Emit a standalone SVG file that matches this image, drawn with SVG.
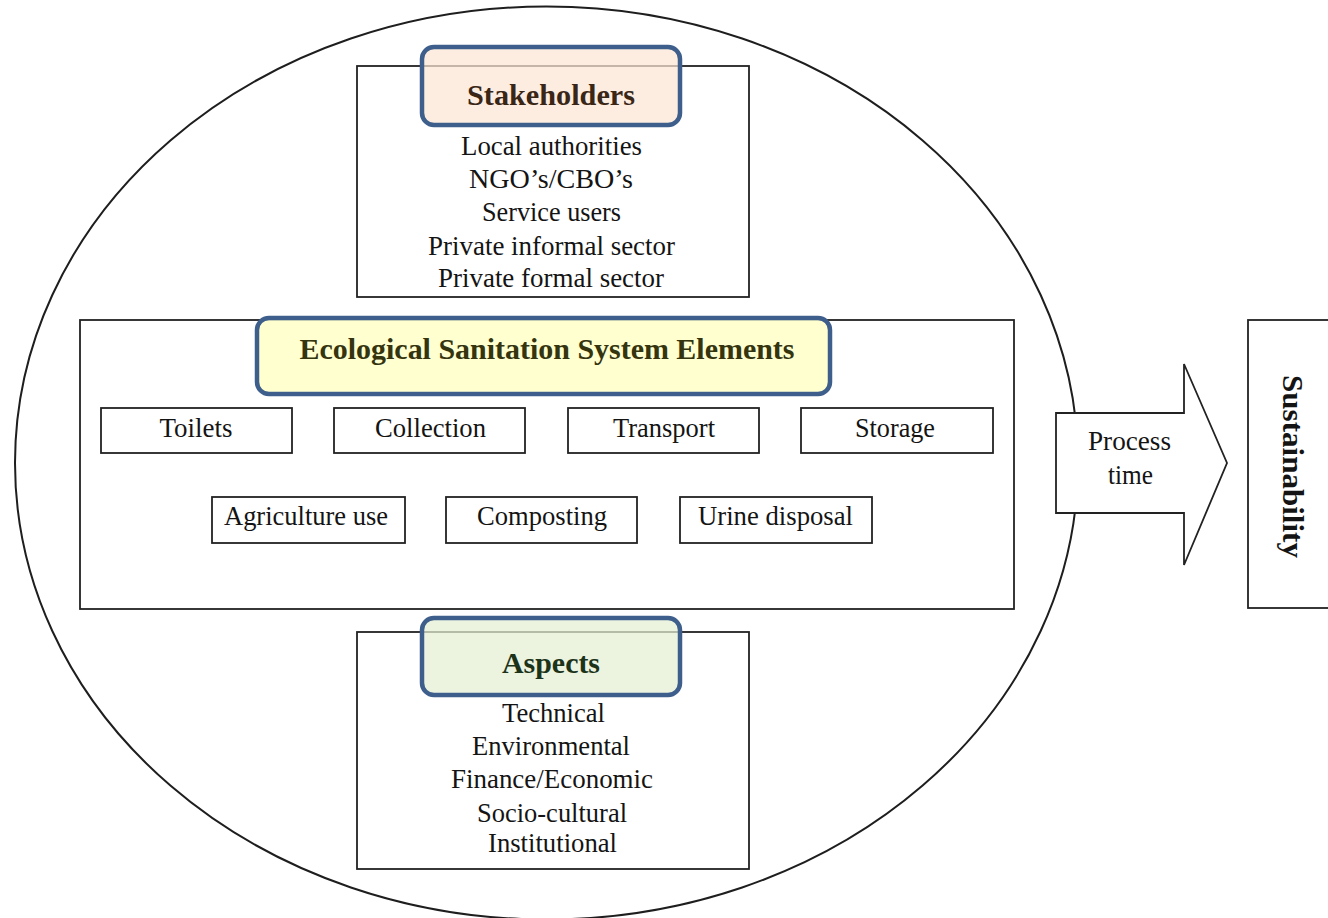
<svg xmlns="http://www.w3.org/2000/svg" width="1328" height="918" viewBox="0 0 1328 918">
  <style>
    .box { fill: none; stroke: #222; stroke-width: 1.8; }
    .wbox { fill: #fff; stroke: #222; stroke-width: 1.8; }
    .hdr { stroke: #3e5f8b; stroke-width: 4.5; }
    .txt { font-family: "Liberation Serif", "Times New Roman", serif; font-size: 27px; fill: #141414; text-anchor: middle; }
    .htxt { font-family: "Liberation Serif", "Times New Roman", serif; font-size: 30px; font-weight: bold; text-anchor: middle; }
  </style>

  <rect width="1328" height="918" fill="#fff"/>

  <!-- enclosing system boundary -->
  <g id="boundary">
    <ellipse cx="546.5" cy="463" rx="531.5" ry="456.5" fill="none" stroke="#1e1e1e" stroke-width="2"/>
  </g>

  <!-- stakeholders -->
  <g id="stakeholders">
    <rect class="wbox" x="357" y="66" width="392" height="231"/>
    <rect class="hdr" x="422" y="47" width="258" height="78" rx="12" fill="#fce6d4" fill-opacity="0.72"/>
    <text class="htxt" x="551" y="105" fill="#3a2616" textLength="168" lengthAdjust="spacingAndGlyphs">Stakeholders</text>
    <text class="txt" x="551.5" y="155" textLength="181" lengthAdjust="spacingAndGlyphs">Local authorities</text>
    <text class="txt" x="551" y="188" textLength="164" lengthAdjust="spacingAndGlyphs">NGO’s/CBO’s</text>
    <text class="txt" x="551.5" y="221" textLength="139" lengthAdjust="spacingAndGlyphs">Service users</text>
    <text class="txt" x="551.5" y="255" textLength="247" lengthAdjust="spacingAndGlyphs">Private informal sector</text>
    <text class="txt" x="551" y="287" textLength="226" lengthAdjust="spacingAndGlyphs">Private formal sector</text>
  </g>

  <!-- system elements -->
  <g id="elements">
    <rect class="wbox" x="80" y="320" width="934" height="289"/>
    <rect class="hdr" x="257" y="318" width="573" height="76" rx="12" fill="#ffffcc" fill-opacity="0.92"/>
    <text class="htxt" x="547" y="359" fill="#34340e" textLength="495" lengthAdjust="spacingAndGlyphs">Ecological Sanitation System Elements</text>
  </g>

  <g id="toilets">
    <rect class="box" x="101" y="408" width="191" height="45"/>
    <text class="txt" x="196" y="437" textLength="73" lengthAdjust="spacingAndGlyphs">Toilets</text>
  </g>
  <g id="collection">
    <rect class="box" x="334" y="408" width="191" height="45"/>
    <text class="txt" x="430.5" y="437" textLength="111" lengthAdjust="spacingAndGlyphs">Collection</text>
  </g>
  <g id="transport">
    <rect class="box" x="568" y="408" width="191" height="45"/>
    <text class="txt" x="664" y="437" textLength="102" lengthAdjust="spacingAndGlyphs">Transport</text>
  </g>
  <g id="storage">
    <rect class="box" x="801" y="408" width="192" height="45"/>
    <text class="txt" x="895" y="437" textLength="80" lengthAdjust="spacingAndGlyphs">Storage</text>
  </g>
  <g id="agriculture">
    <rect class="box" x="212" y="497" width="193" height="46"/>
    <text class="txt" x="306" y="525" textLength="164" lengthAdjust="spacingAndGlyphs">Agriculture use</text>
  </g>
  <g id="composting">
    <rect class="box" x="446" y="497" width="191" height="46"/>
    <text class="txt" x="542" y="525" textLength="130" lengthAdjust="spacingAndGlyphs">Composting</text>
  </g>
  <g id="urine">
    <rect class="box" x="680" y="497" width="192" height="46"/>
    <text class="txt" x="775.5" y="525" textLength="155" lengthAdjust="spacingAndGlyphs">Urine disposal</text>
  </g>

  <!-- aspects -->
  <g id="aspects">
    <rect class="wbox" x="357" y="632" width="392" height="237"/>
    <rect class="hdr" x="422" y="618" width="258" height="77" rx="12" fill="#e4f0d4" fill-opacity="0.72"/>
    <text class="htxt" x="551" y="673" fill="#1c331a" textLength="98" lengthAdjust="spacingAndGlyphs">Aspects</text>
    <text class="txt" x="553.5" y="722" textLength="103" lengthAdjust="spacingAndGlyphs">Technical</text>
    <text class="txt" x="551" y="755" textLength="158" lengthAdjust="spacingAndGlyphs">Environmental</text>
    <text class="txt" x="552" y="788" textLength="202" lengthAdjust="spacingAndGlyphs">Finance/Economic</text>
    <text class="txt" x="552" y="822" textLength="150" lengthAdjust="spacingAndGlyphs">Socio-cultural</text>
    <text class="txt" x="552.5" y="852" textLength="129" lengthAdjust="spacingAndGlyphs">Institutional</text>
  </g>

  <!-- process arrow -->
  <g id="connectors">
    <g id="process-time">
      <polygon class="wbox" points="1056,413 1184,413 1184,364 1227,463 1184,565 1184,513 1056,513"/>
      <text class="txt" x="1129.5" y="450" textLength="83" lengthAdjust="spacingAndGlyphs">Process</text>
      <text class="txt" x="1130.5" y="484" textLength="45" lengthAdjust="spacingAndGlyphs">time</text>
    </g>
  </g>

  <!-- outcome -->
  <g id="sustainability">
    <rect class="wbox" x="1248" y="320" width="100" height="288"/>
    <text class="htxt" transform="translate(1283,466.5) rotate(90)" x="0" y="0" fill="#141414" textLength="183" lengthAdjust="spacingAndGlyphs">Sustainability</text>
  </g>
</svg>
